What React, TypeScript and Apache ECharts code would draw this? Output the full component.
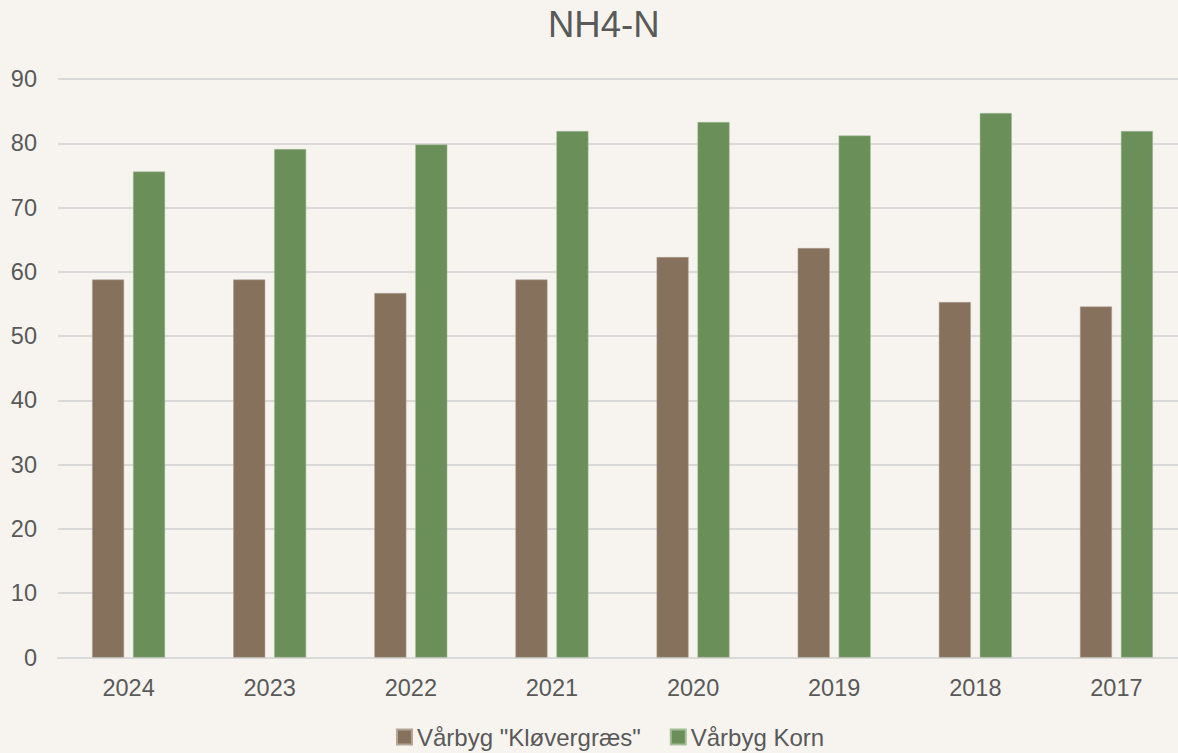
import React, { useEffect, useRef } from "react";
import * as echarts from "echarts";

const categories = ["2024", "2023", "2022", "2021", "2020", "2019", "2018", "2017"];
const kloevergraes = [58.8, 58.8, 56.7, 58.8, 62.3, 63.7, 55.3, 54.6];
const korn = [75.6, 79.1, 79.8, 81.9, 83.3, 81.2, 84.7, 81.9];
const seriesNames = ['Vårbyg "Kløvergræs"', "Vårbyg Korn"];

export default function App() {
  const ref = useRef<HTMLDivElement>(null);
  useEffect(() => {
    document.body.style.margin = "0";
    const chart = echarts.init(ref.current!, null, { renderer: "svg" });
    const font = "Liberation Sans, Arial, sans-serif";
    chart.setOption({
      animation: false,
      backgroundColor: "#F7F4EF",
      title: {
        text: "NH4-N",
        left: 548,
        top: 6,
        padding: 0,
        textStyle: { color: "#595959", fontSize: 36.5, fontWeight: "normal", fontFamily: font },
      },
      legend: {
        top: 725,
        left: 396,
        padding: 0,
        itemWidth: 15,
        itemHeight: 15,
        itemGap: 29,
        icon: "rect",
        textStyle: { color: "#595959", fontSize: 24, fontFamily: font },
        data: seriesNames,
      },
      grid: { left: 58, right: -9, top: 79, bottom: 95.5, containLabel: false, outerBoundsMode: "none" },
      xAxis: {
        type: "category",
        data: categories,
        axisLine: { show: true, lineStyle: { color: "#D9D9D9", width: 2 } },
        axisTick: { show: false },
        axisLabel: { color: "#595959", fontSize: 23.5, fontFamily: font, margin: 18 },
      },
      yAxis: {
        type: "value",
        min: 0,
        max: 90,
        interval: 10,
        axisLine: { show: false },
        axisTick: { show: false },
        splitLine: { lineStyle: { color: "#D9D9D9", width: 2 } },
        axisLabel: { color: "#595959", fontSize: 23.5, fontFamily: font, margin: 21 },
      },
      series: [
        {
          name: seriesNames[0],
          type: "bar",
          data: kloevergraes,
          barWidth: 32,
          barGap: "28%",
          itemStyle: { color: "#85715C", borderColor: "#B3A596", borderWidth: 0.5 },
        },
        {
          name: seriesNames[1],
          type: "bar",
          data: korn,
          barWidth: 32,
          barGap: "28%",
          itemStyle: { color: "#6A8F59", borderColor: "#A4BD98", borderWidth: 0.5 },
        },
      ],
    });
    return () => chart.dispose();
  }, []);
  return <div ref={ref} style={{ position: "absolute", left: 0, top: 0, width: 1178, height: 753 }} />;
}
